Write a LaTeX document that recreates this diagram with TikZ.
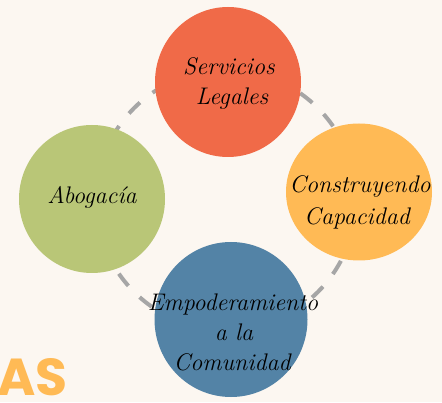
\documentclass[tikz,border=0pt]{standalone}
\usepackage{fontspec}
\usetikzlibrary{shapes.geometric}
\newfontfamily\popp{Poppins}
\definecolor{bgc}{HTML}{FCF7F1}
\definecolor{redc}{HTML}{F06A48}
\definecolor{yelc}{HTML}{FFBA55}
\definecolor{grnc}{HTML}{B9C677}
\definecolor{bluc}{HTML}{5383A6}
\definecolor{ringc}{HTML}{A6A6A6}
\tikzset{
  blob/.style={ellipse, draw=none, inner sep=0pt},
  ring/.style={circle, draw=ringc, line width=4pt, inner sep=0pt, minimum size=260pt,
    dash pattern=on 15.4pt off 16.016pt, dash phase=15.85pt},
  lbl/.style={inner sep=0pt, text=black, font=\fontsize{24}{28}\selectfont\itshape},
  brand/.style={inner sep=0pt, text=yelc, anchor=base east, font=\popp\bfseries\fontsize{52}{56}\selectfont}
}
\begin{document}
\begin{tikzpicture}[x=1pt,y=1pt]
\fill[bgc] (0,0) rectangle (442,402);
\useasboundingbox (0,0) rectangle (442,402);
\node[ring] (loop) at (226,202) {};
\node[blob, fill=redc, minimum width=146pt, minimum height=150pt] (legal) at (228,320) {};
\node[blob, fill=yelc, minimum width=146pt, minimum height=137pt] (cap) at (359,210) {};
\node[blob, fill=grnc, minimum width=146pt, minimum height=148pt] (abo) at (92,203) {};
\node[blob, fill=bluc, minimum width=153pt, minimum height=155pt] (emp) at (231,82.5) {};
\node[lbl] (t1) at (229,336) {Servicios};
\node[lbl] (t2) at (232,303) {Legales};
\node[lbl] (t3) at (360,215) {Construyendo};
\node[lbl] (t4) at (357,184) {Capacidad};
\node[lbl] (t5) at (92,205) {Abogacía};
\node[lbl] (t6) at (233,97) {Empoderamiento};
\node[lbl] (t7) at (234,70) {a la};
\node[lbl] (t8) at (232,40) {Comunidad};
\node[brand] (as) at (68,7) {AS};
\end{tikzpicture}
\end{document}
